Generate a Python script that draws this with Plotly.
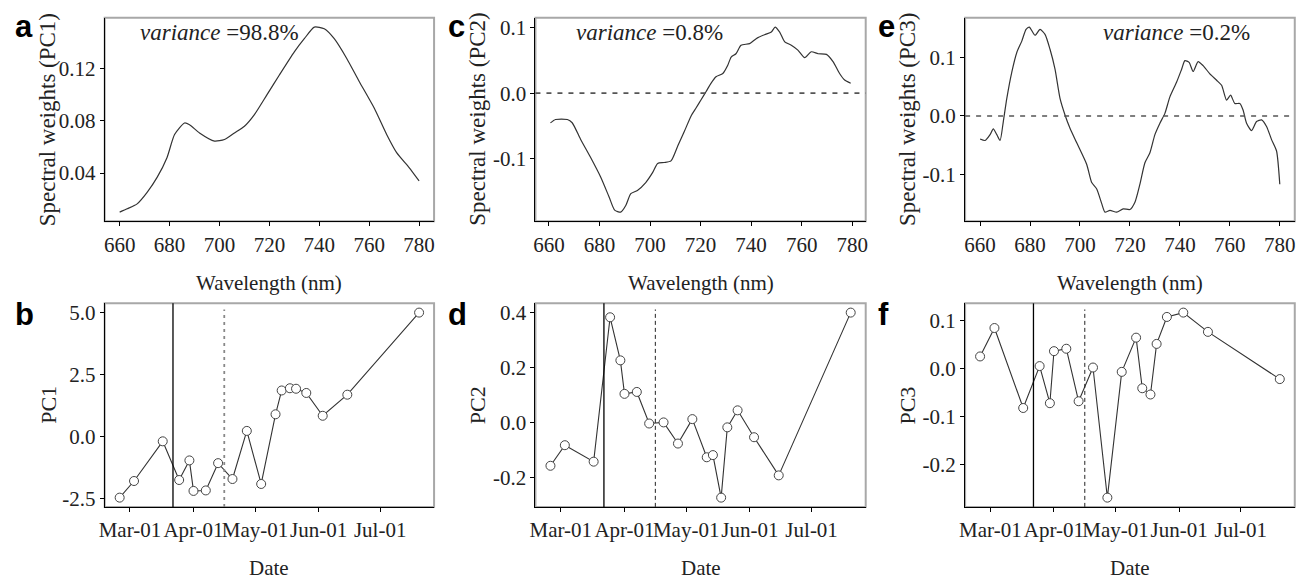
import plotly.graph_objects as go
import pandas as pd

# ---------------- spectral weights of the first three PCs ----------------
wl_pc1 = [660, 663, 667, 671, 675, 679, 682, 686, 688, 692, 698, 702, 706, 710, 714,
          719, 724, 730, 734, 738, 742, 746, 751, 756, 762, 767, 771, 776, 780]
w_pc1 = [0.0102, 0.0127, 0.0165, 0.0253, 0.0367, 0.052, 0.0695, 0.0783, 0.077, 0.0707,
         0.0645, 0.0657, 0.0707, 0.0758, 0.0847, 0.0998, 0.115, 0.1327, 0.1427, 0.1516,
         0.1503, 0.1427, 0.1276, 0.11, 0.0897, 0.0695, 0.0556, 0.0442, 0.034]

wl_pc2 = [660.6, 662.6, 667.3, 669.2, 672.5, 676.5, 680.5, 683.8, 686, 688.4, 690.4, 692.4,
          695, 698.3, 701, 703, 705.6, 708.3, 711, 713.6, 716.2, 718.2, 720.2, 722.2, 724.1,
          726.1, 728.8, 730.8, 732.1, 734, 736, 739.4, 742, 745.3, 748, 749.5, 751.3, 753.3,
          755.9, 758.5, 761.2, 763.8, 766.5, 769.8, 772.4, 775, 777, 779.4]
w_pc2 = [-0.0452, -0.040, -0.040, -0.045, -0.070, -0.098, -0.128, -0.158, -0.178, -0.181,
         -0.171, -0.153, -0.148, -0.136, -0.121, -0.107, -0.1055, -0.103, -0.080, -0.058,
         -0.035, -0.0226, -0.010, 0.0026, 0.015, 0.025, 0.030, 0.043, 0.055, 0.060, 0.073,
         0.0754, 0.083, 0.089, 0.093, 0.1006, 0.093, 0.078, 0.073, 0.0655, 0.054, 0.063,
         0.060, 0.059, 0.048, 0.030, 0.020, 0.015]

wl_pc3 = [660, 662, 664, 665.3, 666.7, 668, 669.3, 670.7, 672.7, 674.7, 676.7, 678.4, 679.7,
          682, 684, 686, 688, 690, 692, 694, 696, 698.7, 702.7, 704.7, 706.7, 708.7, 710,
          712, 714.7, 717.3, 720, 722, 724, 726, 728, 730, 732, 734, 736, 738.7, 740.7, 742,
          743.7, 745.3, 747.3, 749.3, 752, 754.7, 756.7, 758.7, 760.3, 762, 764, 765.3, 766.7,
          768.7, 770.7, 772.7, 774.7, 776.7, 778.7, 780]
w_pc3 = [-0.0395, -0.042, -0.032, -0.022, -0.032, -0.042, -0.0096, 0.030, 0.075, 0.1086,
         0.128, 0.148, 0.152, 0.138, 0.148, 0.1395, 0.114, 0.080, 0.030, 0.0017, -0.021,
         -0.046, -0.083, -0.114, -0.125, -0.150, -0.1645, -0.1617, -0.1645, -0.159, -0.160,
         -0.1476, -0.1166, -0.080, -0.063, -0.032, -0.0125, 0.0044, 0.0326, 0.058, 0.080,
         0.0946, 0.0917, 0.076, 0.093, 0.086, 0.072, 0.061, 0.0524, 0.027, 0.0355, 0.0213,
         0.0213, 0.010, -0.0125, -0.025, -0.0096, -0.0068, -0.018, -0.0405, -0.060, -0.117]

variance_labels = ["98.8%", "0.8%", "0.2%"]

# ---------------- PC scores through the season ----------------
dates = ["2019-02-24", "2019-03-03", "2019-03-17", "2019-03-25", "2019-03-30", "2019-04-01",
         "2019-04-07", "2019-04-13", "2019-04-20", "2019-04-27", "2019-05-04", "2019-05-11",
         "2019-05-14", "2019-05-18", "2019-05-21", "2019-05-26", "2019-06-03", "2019-06-15",
         "2019-07-20"]
pc1 = [-2.47, -1.8, -0.2, -1.76, -0.97, -2.2, -2.18, -1.08, -1.72, 0.22, -1.92, 0.89,
       1.85, 1.94, 1.92, 1.75, 0.83, 1.68, 4.99]
pc2 = [-0.158, -0.083, -0.143, 0.383, 0.226, 0.104, 0.111, -0.004, 0.0, -0.077, 0.012,
       -0.127, -0.119, -0.274, -0.018, 0.044, -0.054, -0.193, 0.4]
pc3 = [0.025, 0.084, -0.082, 0.005, -0.072, 0.036, 0.041, -0.068, 0.002, -0.268, -0.007,
       0.064, -0.041, -0.054, 0.051, 0.107, 0.116, 0.076, -0.022]

solid_date = "2019-03-22"
dashed_date = "2019-04-16"

# ---------------- tick labels ----------------
wl_ticks = [660, 680, 700, 720, 740, 760, 780]
date_ticks = ["2019-03-01", "2019-04-01", "2019-05-01", "2019-06-01", "2019-07-01"]
date_ticktext = ["Mar-01", "Apr-01", "May-01", "Jun-01", "Jul-01"]
y_ticks_top = [[0.04, 0.08, 0.12], [-0.1, 0.0, 0.1], [-0.1, 0.0, 0.1]]
y_ticktext_top = [["0.04", "0.08", "0.12"], ["-0.1", "0.0", "0.1"], ["-0.1", "0.0", "0.1"]]
y_ticks_bot = [[-2.5, 0.0, 2.5, 5.0], [-0.2, 0.0, 0.2, 0.4], [-0.2, -0.1, 0.0, 0.1]]
y_ticktext_bot = [["-2.5", "0.0", "2.5", "5.0"], ["-0.2", "0.0", "0.2", "0.4"],
                  ["-0.2", "-0.1", "0.0", "0.1"]]

# ---------------- layout geometry ----------------
W, H = 1309, 583
FONT = "Liberation Serif"
INK = "#222222"
LINE = "#333333"


def padded(lo, hi, frac=0.05):
    span = hi - lo
    return [lo - frac * span, hi + frac * span]


def xname(k):
    return "x" if k == 1 else f"x{k}"


def yname(k):
    return "y" if k == 1 else f"y{k}"


def axkey(letter, k):
    return f"{letter}axis" if k == 1 else f"{letter}axis{k}"


col_px = [(99.3, 430.7), (532.7, 865.0), (965.0, 1296.7)]
row_px = [(15.0, 221.0), (304.0, 510.0)]


def xdom(c):
    return [col_px[c][0] / W, col_px[c][1] / W]


def ydom(r):
    return [1 - row_px[r][1] / H, 1 - row_px[r][0] / H]


fig = go.Figure()

spectra = [(wl_pc1, w_pc1), (wl_pc2, w_pc2), (wl_pc3, w_pc3)]
scores = [pc1, pc2, pc3]
date_vals = pd.to_datetime(dates)
d_lo, d_hi = date_vals.min(), date_vals.max()
d_span = d_hi - d_lo
date_range = [str(d_lo - 0.05 * d_span), str(d_hi + 0.05 * d_span)]

axis_common = dict(
    showgrid=False, zeroline=False, showline=True, linecolor="black", linewidth=1.2,
    ticks="outside", ticklen=4, tickwidth=1, tickcolor="black", tickangle=0,
    tickfont=dict(family=FONT, size=21, color=INK),
)

layout = dict(
    width=W, height=H, margin=dict(l=0, r=0, t=0, b=0),
    paper_bgcolor="white", plot_bgcolor="white", showlegend=False,
)
shapes = []
annotations = []


def label(text, x, y, size=21, **kw):
    d = dict(text=text, x=x, y=y, xref="paper", yref="paper", showarrow=False,
             xanchor="center", yanchor="middle",
             font=dict(family=FONT, size=size, color=INK))
    d.update(kw)
    return d


for c in range(3):
    # top row: spectral weights
    n = c + 1
    xs, ys = spectra[c]
    fig.add_trace(go.Scatter(
        x=xs, y=ys, mode="lines", xaxis=xname(n), yaxis=yname(n),
        line=dict(color=LINE, width=1.2, shape="spline", smoothing=0.6),
    ))
    layout[axkey("x", n)] = dict(axis_common, domain=xdom(c), anchor=yname(n),
                                 range=padded(min(xs), max(xs)), tickvals=wl_ticks)
    layout[axkey("y", n)] = dict(axis_common, domain=ydom(0), anchor=xname(n),
                                 range=padded(min(ys), max(ys)),
                                 tickvals=y_ticks_top[c], ticktext=y_ticktext_top[c])

    # bottom row: scores over time
    m = c + 4
    vals = scores[c]
    fig.add_trace(go.Scatter(
        x=dates, y=vals, mode="lines+markers", xaxis=xname(m), yaxis=yname(m),
        line=dict(color=LINE, width=1.1),
        marker=dict(symbol="circle", size=9, color="white",
                    line=dict(color="#444444", width=1)),
        cliponaxis=False,
    ))
    layout[axkey("x", m)] = dict(axis_common, domain=xdom(c), anchor=yname(m), type="date",
                                 range=date_range, tickvals=date_ticks,
                                 ticktext=date_ticktext)
    layout[axkey("y", m)] = dict(axis_common, domain=ydom(1), anchor=xname(m),
                                 range=padded(min(vals), max(vals)),
                                 tickvals=y_ticks_bot[c], ticktext=y_ticktext_bot[c])

    # light panel frame
    for k in (n, m):
        shapes.append(dict(type="rect", xref=f"{xname(k)} domain",
                           yref=f"{yname(k)} domain",
                           x0=0, x1=1, y0=0, y1=1, layer="below",
                           line=dict(color="#a8a8a8", width=2)))

    # zero reference line for PC2 and PC3 weights
    if c > 0:
        shapes.append(dict(type="line", xref=f"{xname(n)} domain", yref=yname(n),
                           x0=0, x1=1, y0=0, y1=0,
                           line=dict(color="#555555", width=1.6, dash="5px,6px")))

    # phenology markers
    shapes.append(dict(type="line", xref=xname(m), yref=f"{yname(m)} domain",
                       x0=solid_date, x1=solid_date, y0=0, y1=1,
                       line=dict(color="black", width=1.3)))
    shapes.append(dict(type="line", xref=xname(m), yref=f"{yname(m)} domain",
                       x0=dashed_date, x1=dashed_date, y0=0, y1=0.97,
                       line=dict(color="#888888" if c == 0 else "#222222",
                                 width=1.8 if c == 0 else 1.0,
                                 dash="3px,4px" if c == 0 else "4px,3px")))

    # axis titles
    cx = (col_px[c][0] + col_px[c][1]) / 2 / W
    annotations.append(label("Wavelength (nm)", cx, 1 - 283 / H))
    annotations.append(label("Date", cx, 1 - 572 / H))
    ty = [42, 474, 907][c] / W
    annotations.append(label(f"Spectral weights (PC{c + 1})", ty,
                             (ydom(0)[0] + ydom(0)[1]) / 2, size=23, textangle=-90))
    annotations.append(label(f"PC{c + 1}", ty, (ydom(1)[0] + ydom(1)[1]) / 2,
                             size=22, textangle=-90))

    # explained variance
    vx = [0.102, 0.118, 0.413][c]
    annotations.append(dict(text=f"<i>variance</i> ={variance_labels[c]}",
                            x=vx, y=0.93, xref=f"{xname(n)} domain",
                            yref=f"{yname(n)} domain",
                            xanchor="left", yanchor="middle", showarrow=False,
                            font=dict(family=FONT, size=23, color=INK)))

# panel letters
letters = [("a", 7, 4), ("c", 443, 4), ("e", 875, 4), ("b", 7, 296), ("d", 443, 296),
           ("f", 875, 296)]
for t, px, py in letters:
    annotations.append(dict(text=f"<b>{t}</b>", x=px / W, y=1 - py / H, xref="paper",
                            yref="paper", xanchor="left", yanchor="top", showarrow=False,
                            font=dict(family="Liberation Sans", size=31, color="black")))

layout["shapes"] = shapes
layout["annotations"] = annotations
fig.update_layout(**layout)
fig.write_html("out.html")
